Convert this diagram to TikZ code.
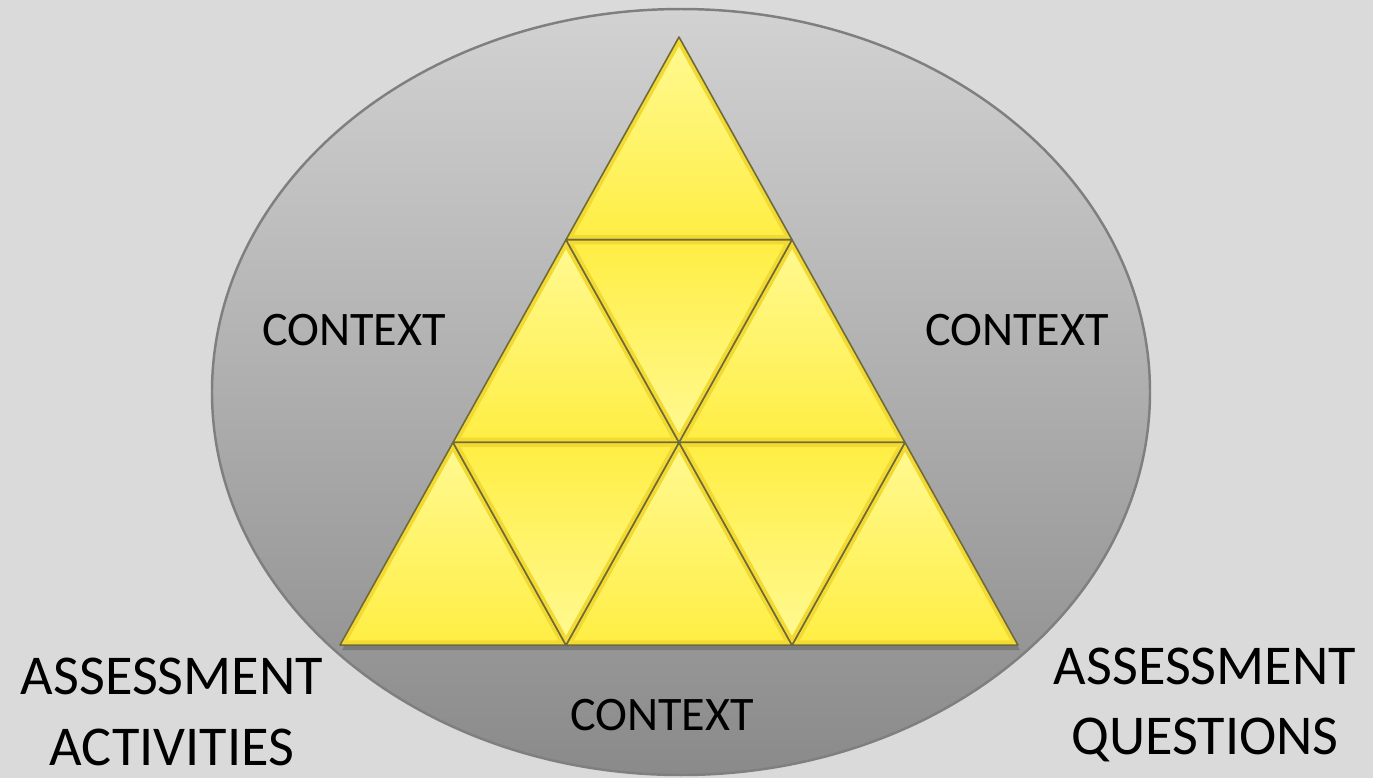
\documentclass[tikz,border=0pt]{standalone}
\usepackage{fontspec}
\setmainfont{Carlito}
\usepackage{xcolor}
\definecolor{pagegray}{HTML}{DADADA}
\definecolor{ringtop}{HTML}{D2D2D2}
\definecolor{ringbot}{HTML}{8A8A8A}
\definecolor{ringline}{HTML}{7F7F7F}
\definecolor{tribright}{HTML}{FFF98F}
\definecolor{trimid}{HTML}{FFEE45}
\definecolor{tridark}{HTML}{F2DA33}
\definecolor{triline}{HTML}{6E6A3A}
\usepackage{tikz}
\usetikzlibrary{
  calc,
}

% one bevelled facet of the pyramid
\newcommand{\facet}[4]{%
  \path[rim] (#1) -- (#2) -- (#3) -- cycle;
  \coordinate (mid) at ($1/3*(#1)+1/3*(#2)+1/3*(#3)$);
  \path[#4] ($(#1)!0.07!(mid)$) -- ($(#2)!0.07!(mid)$)
    -- ($(#3)!0.07!(mid)$) -- cycle;
}

\begin{document}
\begin{tikzpicture}[
  ctxlabel/.style={
    font=\fontsize{13.7}{16}\selectfont, text=black, anchor=base,
  },
  sidelabel/.style={
    font=\fontsize{16}{20}\selectfont, text=black, align=center,
  },
  ring/.style={
    draw=ringline, line width=0.7pt, top color=ringtop, bottom color=ringbot,
  },
  rim/.style={
    fill=tridark, draw=triline, line width=0.45pt, line join=round,
  },
  uptri/.style={top color=tribright, bottom color=trimid},
  downtri/.style={top color=trimid, bottom color=tribright},
]
  % Page
  \useasboundingbox (0,0) rectangle (13.73,-7.78);
  \fill[pagegray] (0,0) rectangle (13.73,-7.78);

  % Context ring
  \path[ring] (6.81,-3.92) ellipse [x radius=4.69, y radius=3.83];

  % Lattice of corners
  \foreach \i in {0,...,3}{
    \foreach \j in {0,...,\i}{
      \coordinate (p\i\j) at ({(679+(2*\j-\i)*113)/100}, {-(37+\i*202.7)/100});
    }
  }

  % Shadow under the pyramid
  \fill[black, opacity=0.18] ($(p00)+(0.02,-0.05)$) -- ($(p30)+(0.02,-0.05)$)
    -- ($(p33)+(0.02,-0.05)$) -- cycle;

  % Facets pointing up
  \foreach \i in {1,2,3}{
    \pgfmathtruncatemacro{\up}{\i-1}
    \foreach \j in {0,...,\up}{
      \pgfmathtruncatemacro{\nx}{\j+1}
      \facet{p\up\j}{p\i\j}{p\i\nx}{uptri}
    }
  }

  % Facets pointing down
  \foreach \i in {2,3}{
    \pgfmathtruncatemacro{\up}{\i-1}
    \pgfmathtruncatemacro{\last}{\i-2}
    \foreach \j in {0,...,\last}{
      \pgfmathtruncatemacro{\nx}{\j+1}
      \facet{p\up\j}{p\up\nx}{p\i\nx}{downtri}
    }
  }

  % Labels
  \node[ctxlabel] (ctxleft) at (3.54,-3.45) {CONTEXT};
  \node[ctxlabel] (ctxright) at (10.17,-3.45) {CONTEXT};
  \node[ctxlabel] (ctxbottom) at (6.62,-7.30) {CONTEXT};
  \node[sidelabel] (activities) at (1.72,-7.12) {ASSESSMENT\\ACTIVITIES};
  \node[sidelabel] (questions) at (12.05,-7.05) {ASSESSMENT\\QUESTIONS};
\end{tikzpicture}
\end{document}
